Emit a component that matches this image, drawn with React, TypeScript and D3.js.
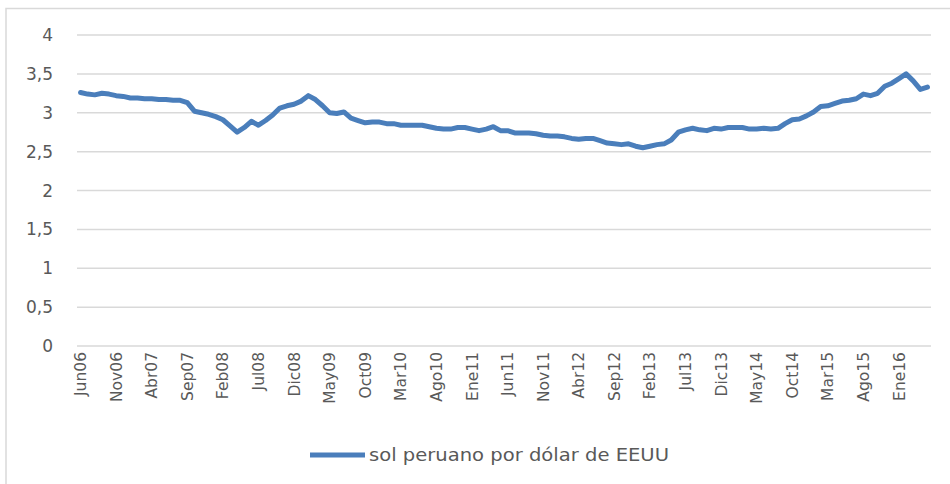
import React, { useEffect, useRef } from "react";
import * as d3 from "d3";

// monthly average, Jun 2006 .. May 2016
const meses = ["Ene", "Feb", "Mar", "Abr", "May", "Jun", "Jul", "Ago", "Sep", "Oct", "Nov", "Dic"];
const years = [2006, 2007, 2008, 2009, 2010, 2011, 2012, 2013, 2014, 2015, 2016];

const tipoCambio = [
  3.26, 3.24, 3.23, 3.25, 3.24, 3.22, 3.21,
  3.19, 3.19, 3.18, 3.18, 3.17, 3.17, 3.16, 3.16, 3.13, 3.02, 3.0, 2.98,
  2.95, 2.91, 2.83, 2.75, 2.81, 2.89, 2.84, 2.9, 2.97, 3.06, 3.09, 3.11,
  3.15, 3.22, 3.17, 3.09, 3.0, 2.99, 3.01, 2.93, 2.9, 2.87, 2.88, 2.88,
  2.86, 2.86, 2.84, 2.84, 2.84, 2.84, 2.82, 2.8, 2.79, 2.79, 2.81, 2.81,
  2.79, 2.77, 2.79, 2.82, 2.77, 2.77, 2.74, 2.74, 2.74, 2.73, 2.71, 2.7,
  2.7, 2.69, 2.67, 2.66, 2.67, 2.67, 2.64, 2.61, 2.6, 2.59, 2.6, 2.57,
  2.55, 2.57, 2.59, 2.6, 2.65, 2.75, 2.78, 2.8, 2.78, 2.77, 2.8, 2.79,
  2.81, 2.81, 2.81, 2.79, 2.79, 2.8, 2.79, 2.8, 2.86, 2.91, 2.92, 2.96,
  3.01, 3.08, 3.09, 3.12, 3.15, 3.16, 3.18, 3.24, 3.22, 3.25, 3.34, 3.38,
  3.44, 3.5, 3.41, 3.3, 3.33,
];

const yTicks = [0, 0.5, 1, 1.5, 2, 2.5, 3, 3.5, 4];
const serieName = "sol peruano por dólar de EEUU";

// category labels, Jun06 onwards
const categorias: string[] = [];
years.forEach((yr) => {
  meses.forEach((m, mi) => {
    if (yr === 2006 && mi < 5) return;
    if (yr === 2016 && mi > 4) return;
    categorias.push(m + String(yr).slice(2));
  });
});

const App = () => {
  const svgRef = useRef<SVGSVGElement>(null);

  useEffect(() => {
    const w = 950;
    const h = 484;
    const svg = d3.select(svgRef.current);
    svg.selectAll("*").remove();

    const font = "DejaVu Sans, sans-serif";
    const grid = "#d9d9d9";
    const blue = "#4a7ebb";

    // chart border (clipped by the picture)
    svg
      .append("path")
      .attr("d", `M6,${h + 5}V8.5H${w + 5}`)
      .attr("fill", "none")
      .attr("stroke", grid)
      .attr("stroke-width", 1.5);

    const x = d3.scaleBand().domain(categorias).range([77, 931]).padding(0);
    const y = d3.scaleLinear().domain([0, 4]).range([346, 35]);
    const cx = (c: string) => (x(c) as number) + x.bandwidth() / 2;

    // gridlines
    svg
      .append("g")
      .selectAll("line")
      .data(yTicks)
      .join("line")
      .attr("x1", 77)
      .attr("x2", 931)
      .attr("y1", (d) => y(d))
      .attr("y2", (d) => y(d))
      .attr("stroke", grid)
      .attr("stroke-width", 1.5);

    // y labels
    const fmt = (d: number) => String(d).replace(".", ",");
    svg
      .append("g")
      .selectAll("text")
      .data(yTicks)
      .join("text")
      .attr("x", 53)
      .attr("y", (d) => y(d))
      .attr("dy", "0.36em")
      .attr("text-anchor", "end")
      .attr("font-family", font)
      .attr("font-size", 17)
      .attr("fill", "#595959")
      .text(fmt);

    // x labels every 5 months
    const xLabels = categorias.filter((_, i) => i % 5 === 0);
    svg
      .append("g")
      .selectAll("text")
      .data(xLabels)
      .join("text")
      .attr("transform", (d) => `translate(${cx(d)},352) rotate(-90)`)
      .attr("dy", "0.36em")
      .attr("text-anchor", "end")
      .attr("font-family", font)
      .attr("font-size", 15.5)
      .attr("fill", "#595959")
      .text((d) => d);

    // series line
    const line = d3
      .line<number>()
      .x((_, i) => cx(categorias[i]))
      .y((d) => y(d));
    svg
      .append("path")
      .datum(tipoCambio)
      .attr("d", line)
      .attr("fill", "none")
      .attr("stroke", blue)
      .attr("stroke-width", 5)
      .attr("stroke-linejoin", "round")
      .attr("stroke-linecap", "round");

    // legend
    const lg = svg.append("g").attr("transform", "translate(310,455)");
    lg.append("line")
      .attr("x1", 0)
      .attr("x2", 55)
      .attr("stroke", blue)
      .attr("stroke-width", 5);
    lg.append("text")
      .attr("x", 59)
      .attr("dy", "0.36em")
      .attr("font-family", font)
      .attr("font-size", 17)
      .attr("fill", "#595959")
      .attr("textLength", 300)
      .attr("lengthAdjust", "spacingAndGlyphs")
      .text(serieName);
  }, []);

  return (
    <svg
      ref={svgRef}
      width={950}
      height={484}
      style={{ position: "absolute", left: 0, top: 0, background: "#fff" }}
    ></svg>
  );
};

export default App;
